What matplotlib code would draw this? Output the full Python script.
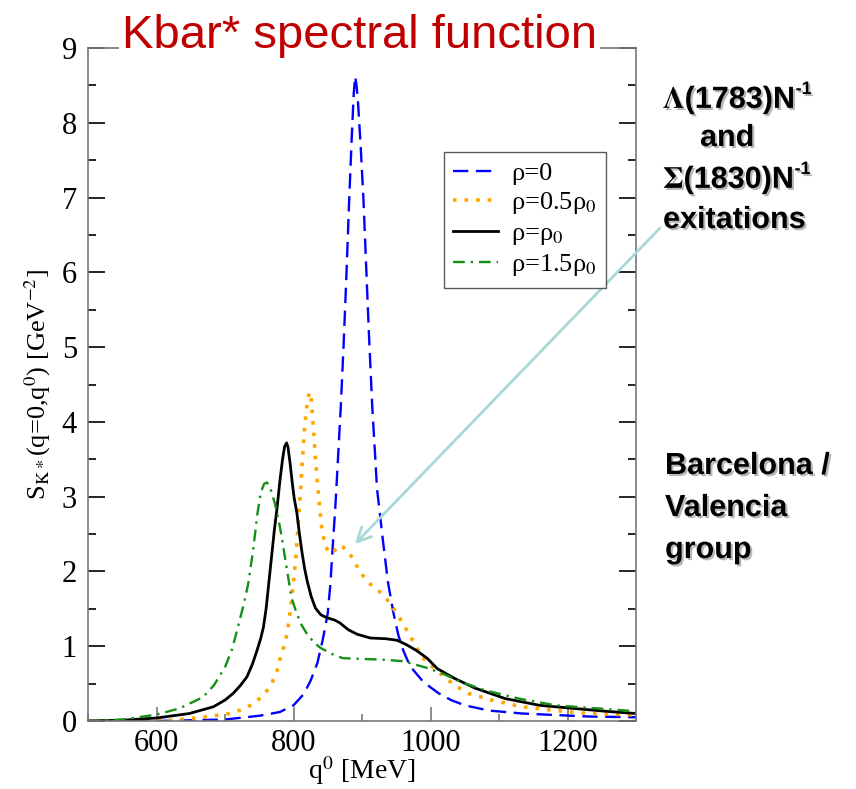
import numpy as np
import matplotlib.pyplot as plt
import matplotlib.patheffects as pe
from matplotlib.ticker import MultipleLocator

plt.rcParams['font.family'] = ['Liberation Serif', 'DejaVu Serif']
plt.rcParams['mathtext.fontset'] = 'stix'

# Spectral function S_K*(q=0, q0) [GeV^-2] vs q0 [MeV]
q_rho0 = [500, 600, 650, 700, 750, 780, 800, 815, 825, 835, 843, 850, 854, 857, 861,
          864, 869, 873, 877, 881, 885, 888, 890, 892, 894, 898, 902, 906, 910, 915,
          922, 931, 938, 946, 953, 960, 967, 975, 987, 1000, 1012, 1030, 1050, 1085, 1134,
          1182, 1231, 1300]
s_rho0 = [0.0, 0.0, 0.01, 0.02, 0.07, 0.12, 0.21, 0.36, 0.54, 0.78, 1.1, 1.44, 1.85, 2.3, 2.85,
          3.35, 4.2, 5.0, 5.9, 6.9, 7.8, 8.4, 8.62, 8.5, 8.3, 7.7, 7.0, 6.1, 5.2, 4.2,
          3.1, 2.38, 1.85, 1.44, 1.15, 0.95, 0.8, 0.68, 0.55, 0.45, 0.37, 0.28, 0.21, 0.14, 0.1,
          0.08, 0.06, 0.05]

q_half = [500, 580, 624, 668, 707, 730, 744, 758, 769, 776, 781, 788, 792, 796, 800,
          804, 807, 810, 813, 816, 819, 822, 824, 826, 828, 830, 832, 835, 838, 841,
          846, 853, 860, 866, 873, 881, 890, 900, 912, 927, 941, 951, 960, 970, 980,
          987, 1006, 1020, 1035, 1055, 1089, 1134, 1182, 1231, 1300]
s_half = [0.0, 0.0, 0.01, 0.05, 0.1, 0.17, 0.25, 0.36, 0.52, 0.67, 0.86, 1.05, 1.25, 1.52, 1.86,
          2.25, 2.65, 3.04, 3.5, 3.9, 4.18, 4.35, 4.4, 4.3, 4.05, 3.8, 3.52, 3.17, 2.88, 2.6,
          2.35, 2.24, 2.28, 2.35, 2.32, 2.26, 2.11, 1.96, 1.83, 1.72, 1.58, 1.43, 1.3, 1.14, 0.98,
          0.86, 0.7, 0.59, 0.48, 0.37, 0.28, 0.19, 0.14, 0.1, 0.08]

q_one = [500, 550, 600, 648, 683, 700, 712, 722, 732, 740, 747, 752, 756, 760, 764,
         768, 772, 776, 780, 784, 787, 790, 792, 795, 798, 801, 805, 808, 812, 816,
         820, 826, 832, 840, 849, 860, 868, 880, 893, 912, 935, 951, 965, 980, 995,
         1010, 1035, 1065, 1109, 1159, 1207, 1256, 1300]
s_one = [0.0, 0.01, 0.04, 0.1, 0.19, 0.28, 0.37, 0.47, 0.59, 0.76, 0.95, 1.1, 1.25, 1.5, 1.85,
         2.2, 2.55, 2.85, 3.2, 3.5, 3.67, 3.72, 3.66, 3.45, 3.2, 2.98, 2.78, 2.55, 2.28, 2.05,
         1.87, 1.66, 1.51, 1.42, 1.38, 1.35, 1.31, 1.22, 1.16, 1.11, 1.1, 1.08, 1.02, 0.94, 0.84,
         0.7, 0.57, 0.44, 0.3, 0.21, 0.17, 0.13, 0.1]

q_15 = [500, 550, 600, 634, 668, 684, 700, 710, 719, 727, 734, 741, 747, 752, 757,
        761, 765, 769, 773, 778, 783, 790, 797, 805, 812, 820, 830, 839, 855, 872,
        900, 931, 960, 995, 1016, 1045, 1080, 1129, 1182, 1241, 1300]
s_15 = [0.0, 0.02, 0.085, 0.17, 0.32, 0.48, 0.72, 0.95, 1.26, 1.55, 1.84, 2.28, 2.75, 3.05, 3.17,
        3.19, 3.14, 3.03, 2.9, 2.7, 2.45, 2.05, 1.65, 1.43, 1.28, 1.16, 1.05, 0.98, 0.9, 0.84,
        0.83, 0.82, 0.8, 0.71, 0.64, 0.52, 0.41, 0.3, 0.21, 0.17, 0.13]

labels = ['ρ=0', 'ρ=0.5ρ$_0$', 'ρ=ρ$_0$', 'ρ=1.5ρ$_0$']

fig = plt.figure(figsize=(8.56, 7.89), dpi=100)
ax = fig.add_axes([88 / 856, 68 / 789, 548 / 856, 673 / 789])

ax.plot(q_rho0, s_rho0, color='#0000ff', lw=1.7, ls=(0, (6.5, 3.2)), label=labels[0])
ax.plot(q_half, s_half, color='#ffa500', lw=2.6, ls=(0, (1, 2.2)), label=labels[1])
ax.plot(q_one, s_one, color='black', lw=2.0, label=labels[2])
ax.plot(q_15, s_15, color='#159015', lw=1.7, ls=(0, (5, 2.5, 1, 2.5)), label=labels[3])

ax.set_xlim(500, 1300)
ax.set_ylim(0, 9)
ax.xaxis.set_major_locator(MultipleLocator(200))
ax.xaxis.set_minor_locator(MultipleLocator(100))
ax.yaxis.set_major_locator(MultipleLocator(1))
ax.yaxis.set_minor_locator(MultipleLocator(0.5))
ax.tick_params(axis='both', which='both', direction='in', labelsize=22)
ax.tick_params(axis='y', which='both', left=True, right=True, colors='black', pad=8)
ax.tick_params(axis='y', which='major', length=12, width=1.2)
ax.tick_params(axis='y', which='minor', length=6, width=1.2)
ax.tick_params(axis='x', which='major', length=10, width=1.2, color='#777777', pad=6)
ax.tick_params(axis='x', which='minor', length=5, width=1.2, color='#777777')
for s in ax.spines.values():
    s.set_color('#777777')
    s.set_linewidth(1.2)

ax.set_xlabel(r'q$^{0}$ [MeV]', fontsize=20, labelpad=-3)
ax.set_ylabel(r'S$_{\mathrm{K*}}$(q=0,q$^{0}$) [GeV$^{-2}$]', fontsize=19, labelpad=6)

leg = ax.legend(loc='upper right', bbox_to_anchor=(0.945, 0.845), fontsize=19,
                frameon=True, fancybox=False, handlelength=1.7, labelspacing=0.2,
                borderpad=0.35, handletextpad=0.5, borderaxespad=0)
leg.get_frame().set_edgecolor('#333333')
leg.get_frame().set_linewidth(1.0)

fig.text(0.42, 0.955, 'Kbar* spectral function', color='#c00000', fontsize=34,
         family='Liberation Sans', ha='center', va='center',
         bbox=dict(facecolor='white', edgecolor='none', pad=2))

shadow = [pe.withSimplePatchShadow(offset=(1.5, -1.5), shadow_rgbFace='#888888', alpha=0.6)]
side_kw = dict(fontsize=22, fontweight='bold', family='Liberation Sans',
               color='black', ha='left', va='center', path_effects=shadow)
renderer = fig.canvas.get_renderer()
for label, ypix in [(r'$\mathbf{\Lambda}$(1783)N', 100), (r'$\mathbf{\Sigma}$(1830)N', 180)]:
    t = fig.text(663 / 856, 1 - ypix / 789, label, **side_kw)
    bb = t.get_window_extent(renderer)
    fig.text(bb.x1 + 1, bb.y1 - 15, '-1', fontsize=13, fontweight='bold',
             family='Liberation Sans', ha='left', va='bottom', path_effects=shadow,
             transform=None)
fig.text(700 / 856, 1 - 138 / 789, 'and', **side_kw)
fig.text(663 / 856, 1 - 220 / 789, 'exitations', **side_kw)
fig.text(665 / 856, 1 - 466 / 789, 'Barcelona /', **side_kw)
fig.text(665 / 856, 1 - 508 / 789, 'Valencia', **side_kw)
fig.text(665 / 856, 1 - 550 / 789, 'group', **side_kw)

ax.annotate('', xy=(0.487, 0.263), xycoords='axes fraction',
            xytext=(660 / 856, 1 - 228 / 789), textcoords='figure fraction',
            arrowprops=dict(arrowstyle='->', color='#a8d8d8', lw=2,
                            mutation_scale=25, shrinkA=0, shrinkB=0),
            annotation_clip=False)

fig.savefig('out.png', dpi=100, facecolor='white')
